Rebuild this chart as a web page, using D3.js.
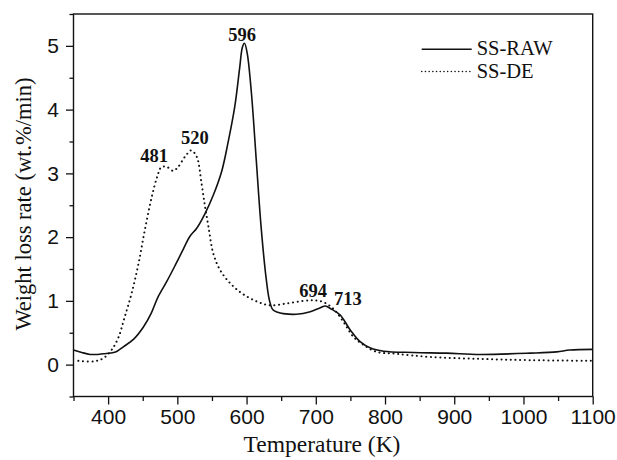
<!DOCTYPE html>
<html>
<head>
<meta charset="utf-8">
<script src="https://cdn.jsdelivr.net/npm/d3@7"></script>
<style>
  body { margin: 0; background: #fff; }
  svg { display: block; font-family: "Liberation Serif", "Times New Roman", serif; }
  .tick text { font-size: 21px; fill: #111; }
  .tick line { stroke: #111; stroke-width: 1.3; }
</style>
</head>
<body>
<div id="chart"></div>
<script>
/*
  DATA
*/

// SS-RAW (solid)
var tempRaw = [350, 362, 374, 385, 393, 408, 413, 422, 437, 451, 462, 472, 485, 497, 509, 518, 528, 540, 552, 564, 573, 583, 590, 594, 597, 601, 607, 614, 621, 628, 633, 638, 645, 653, 672, 692, 706, 714, 721, 735, 750, 764, 779, 798, 841, 889, 937, 1010, 1048, 1067, 1100];
var rateRaw = [0.23, 0.19, 0.16, 0.16, 0.17, 0.19, 0.21, 0.28, 0.40, 0.59, 0.80, 1.06, 1.31, 1.56, 1.82, 2.01, 2.14, 2.37, 2.66, 3.03, 3.47, 4.05, 4.65, 4.98, 5.04, 4.88, 4.26, 3.21, 2.16, 1.38, 1.01, 0.86, 0.82, 0.80, 0.79, 0.83, 0.89, 0.92, 0.88, 0.78, 0.54, 0.36, 0.26, 0.21, 0.19, 0.18, 0.16, 0.18, 0.20, 0.23, 0.24];

// SS-DE (dotted)
var tempDe = [357, 379, 393, 405, 415, 424, 434, 444, 453, 463, 471, 477, 485, 494, 501, 511, 520, 528, 535, 540, 545, 552, 562, 576, 593, 615, 634, 658, 682, 697, 711, 725, 740, 754, 769, 788, 817, 865, 937, 1010, 1100];
var rateDe = [0.06, 0.05, 0.10, 0.23, 0.43, 0.75, 1.12, 1.59, 2.11, 2.63, 2.95, 3.10, 3.10, 3.04, 3.10, 3.26, 3.36, 3.26, 2.84, 2.48, 2.16, 1.74, 1.48, 1.28, 1.12, 0.99, 0.93, 0.96, 1.00, 1.01, 0.98, 0.88, 0.67, 0.44, 0.31, 0.20, 0.17, 0.12, 0.09, 0.07, 0.06];

// peak annotations
var peakLabels = ["481", "520", "596", "694", "713"];
var peakTemps = [481, 520, 596, 694, 713];
var peakRates = [3.10, 3.36, 5.04, 1.01, 0.92];

var xMajorTicks = [400, 500, 600, 700, 800, 900, 1000, 1100];
var xMinorTicks = [350, 450, 550, 650, 750, 850, 950, 1050];
var yMajorTicks = [0, 1, 2, 3, 4, 5];
var yMinorTicks = [-0.5, 0.5, 1.5, 2.5, 3.5, 4.5, 5.5];

var seriesNames = ["SS-RAW", "SS-DE"];

/*
  LAYOUT
*/

var width = 617;
var height = 460;
var margin = {top: 14, right: 24.3, bottom: 63.5, left: 73.5};

// label nudges (px) for peak labels, same order as peakLabels
var labelDx = [-10, 3.6, -1.7, 1.5, 23];
var labelDy = [5, 6, 2, 3.5, 1];

var svg = d3.select("#chart")
  .append("svg")
    .attr("width", width)
    .attr("height", height);

svg.append("rect")
  .attr("width", width)
  .attr("height", height)
  .attr("fill", "#fff");

var x = d3.scaleLinear()
  .domain([350, 1100])
  .range([margin.left, width - margin.right]);

var y = d3.scaleLinear()
  .domain([-0.5, 5.5])
  .range([height - margin.bottom, margin.top]);

/*
  AXES
*/

var xAxis = svg.append("g")
  .attr("transform", "translate(0," + (height - margin.bottom) + ")")
  .call(d3.axisBottom(x).tickValues(xMajorTicks).tickSize(8).tickPadding(5).tickFormat(d3.format("d")));
xAxis.select(".domain").remove();

var xMinor = svg.append("g")
  .attr("transform", "translate(0," + (height - margin.bottom) + ")")
  .call(d3.axisBottom(x).tickValues(xMinorTicks).tickSize(4.5).tickFormat(""));
xMinor.select(".domain").remove();

var yAxis = svg.append("g")
  .attr("transform", "translate(" + margin.left + ",0)")
  .call(d3.axisLeft(y).tickValues(yMajorTicks).tickSize(7.5).tickPadding(7).tickFormat(d3.format("d")));
yAxis.select(".domain").remove();

var yMinor = svg.append("g")
  .attr("transform", "translate(" + margin.left + ",0)")
  .call(d3.axisLeft(y).tickValues(yMinorTicks).tickSize(4).tickFormat(""));
yMinor.select(".domain").remove();

svg.selectAll(".tick text").attr("font-family", null).attr("font-size", null);

// frame
svg.append("rect")
  .attr("x", margin.left)
  .attr("y", margin.top)
  .attr("width", width - margin.left - margin.right)
  .attr("height", height - margin.top - margin.bottom)
  .attr("fill", "none")
  .attr("stroke", "#111")
  .attr("stroke-width", 1.4);

// axis titles
svg.append("text")
  .attr("x", 322)
  .attr("y", 452)
  .attr("text-anchor", "middle")
  .attr("font-size", 23.5)
  .attr("fill", "#111")
  .text("Temperature (K)");

svg.append("text")
  .attr("transform", "translate(31,204) rotate(-90)")
  .attr("text-anchor", "middle")
  .attr("font-size", 22.5)
  .attr("fill", "#111")
  .text("Weight loss rate (wt.%/min)");

/*
  CURVES
*/

var line = d3.line()
  .x(d => x(d[0]))
  .y(d => y(d[1]))
  .curve(d3.curveCatmullRom.alpha(0.5));

var rawPts = d3.zip(tempRaw, rateRaw);
var dePts = d3.zip(tempDe, rateDe);

svg.append("path")
  .datum(dePts)
  .attr("d", line)
  .attr("fill", "none")
  .attr("stroke", "#111")
  .attr("stroke-width", 2)
  .attr("stroke-linecap", "round")
  .attr("stroke-dasharray", "0.1,4.6");

svg.append("path")
  .datum(rawPts)
  .attr("d", line)
  .attr("fill", "none")
  .attr("stroke", "#111")
  .attr("stroke-width", 1.6);

// peak labels
svg.append("g")
  .selectAll("text")
  .data(peakLabels)
  .enter()
  .append("text")
    .attr("x", (d, i) => x(peakTemps[i]) + labelDx[i])
    .attr("y", (d, i) => y(peakRates[i]) - labelDy[i])
    .attr("text-anchor", "middle")
    .attr("font-size", 18.5)
    .attr("font-weight", "bold")
    .attr("fill", "#111")
    .text(d => d);

/*
  LEGEND
*/

var legend = svg.append("g");
var legendY = [49.3, 71.5];

legend.selectAll("line")
  .data(seriesNames)
  .enter()
  .append("line")
    .attr("x1", 421.7)
    .attr("x2", 471.7)
    .attr("y1", (d, i) => legendY[i])
    .attr("y2", (d, i) => legendY[i])
    .attr("stroke", "#111")
    .attr("stroke-width", (d, i) => i === 0 ? 1.6 : 1.5)
    .attr("stroke-linecap", (d, i) => i === 0 ? "butt" : "round")
    .attr("stroke-dasharray", (d, i) => i === 0 ? null : "0.1,3.6");

legend.selectAll("text")
  .data(seriesNames)
  .enter()
  .append("text")
    .attr("x", 476.7)
    .attr("y", (d, i) => legendY[i] + 6)
    .attr("font-size", 20.5)
    .attr("fill", "#111")
    .text(d => d);
</script>
</body>
</html>
